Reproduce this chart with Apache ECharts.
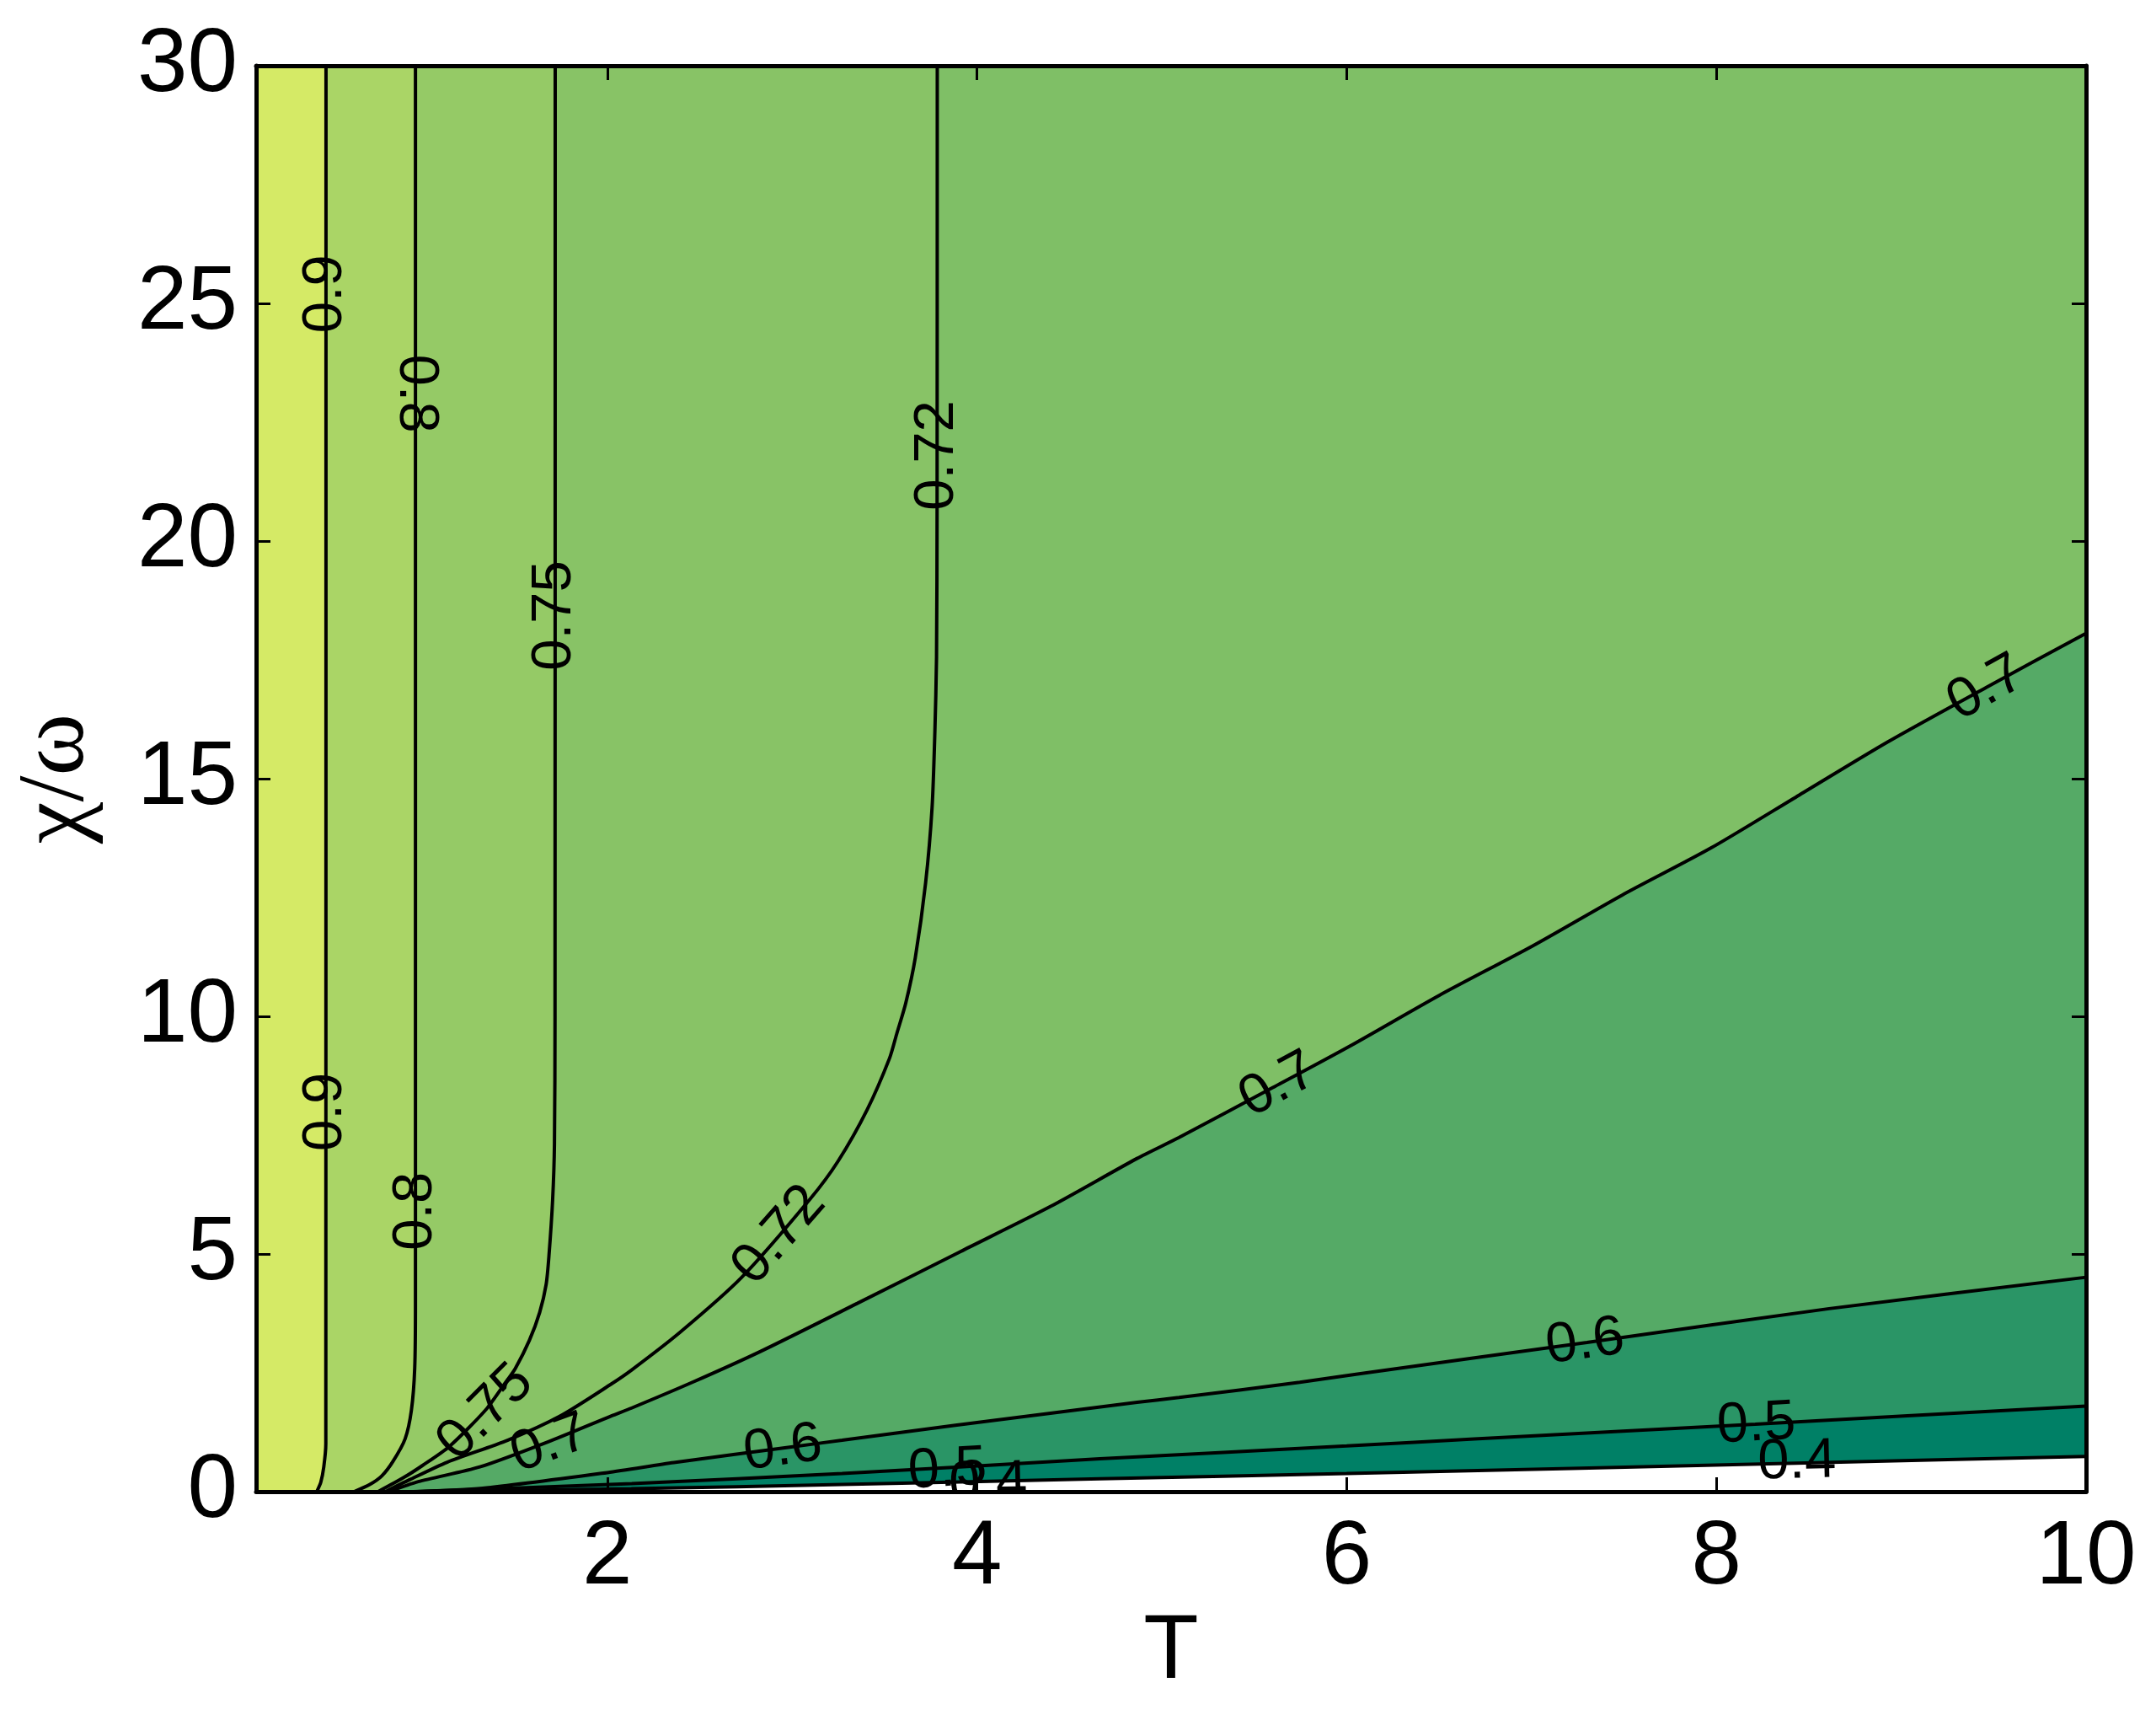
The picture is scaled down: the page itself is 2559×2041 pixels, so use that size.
<!DOCTYPE html>
<html>
<head>
<meta charset="utf-8">
<script src="https://cdn.jsdelivr.net/npm/echarts@6/dist/echarts.min.js"></script>
<style>
  html, body { margin: 0; padding: 0; background: #fff; }
  #chart { width: 2559px; height: 2041px; }
</style>
</head>
<body>
<div id="chart"></div>
<script>
// axis ticks
const xTicks = [2, 4, 6, 8, 10];
const xMin = 0.1, xMax = 10, yMin = 0, yMax = 30;

// contour lines, points are [T, chi/omega]
const line090 = [[0.428, 0], [0.45, 0.2], [0.466, 0.52], [0.477, 1.0], [0.478, 30]];
const line080 = [[0.63, 0], [0.715, 0.15], [0.78, 0.33], [0.841, 0.64], [0.906, 1.11], [0.94, 1.71],
  [0.958, 2.6], [0.962, 4], [0.962, 30]];
const line075 = [[0.76, 0], [0.9, 0.3], [1.0, 0.55], [1.145, 0.95], [1.342, 1.72], [1.448, 2.29],
  [1.502, 2.59], [1.578, 3.18], [1.634, 3.77], [1.669, 4.36], [1.684, 4.95], [1.704, 6.13],
  [1.714, 7.32], [1.717, 10], [1.718, 30]];
const line072 = [[0.80, 0], [0.93, 0.25], [1.134, 0.62], [1.46, 1.08], [1.745, 1.59], [2.02, 2.26],
  [2.132, 2.56], [2.393, 3.35], [2.725, 4.5], [3.10, 6.17], [3.248, 6.95], [3.405, 8.03],
  [3.527, 9.12], [3.567, 9.65], [3.614, 10.27], [3.666, 11.23], [3.722, 12.81], [3.757, 14.40],
  [3.772, 15.98], [3.781, 17.56], [3.784, 20.72], [3.785, 30]];
const line070 = [[0.82, 0], [0.977, 0.21], [1.31, 0.52], [1.70, 1.08], [2.02, 1.59], [2.132, 1.76],
  [2.46, 2.30], [2.829, 2.95], [3.352, 3.96], [3.91, 5.05], [4.398, 6.0], [4.866, 7.01],
  [5.093, 7.45], [5.6, 8.5], [6.02, 9.38], [6.5, 10.44], [7.01, 11.49], [7.49, 12.55],
  [7.97, 13.54], [8.45, 14.66], [8.93, 15.78], [9.46, 16.92], [10, 18.06]];
const line060 = [[0.95, 0], [1.325, 0.07], [2.0, 0.40], [2.36, 0.61], [3.004, 0.945], [3.27, 1.08],
  [3.874, 1.39], [4.866, 1.88], [5.093, 1.98], [5.746, 2.30], [6.05, 2.47], [7.30, 3.14],
  [8.61, 3.85], [10, 4.51]];
const line050 = [[0.97, 0], [2.132, 0.17], [3.27, 0.38], [4.665, 0.69], [6.0, 0.96], [6.69, 1.11],
  [8.21, 1.42], [10, 1.80]];
const line040 = [[1.0, 0], [2.13, 0.06], [3.27, 0.15], [4.665, 0.27], [6.0, 0.38], [8.43, 0.60],
  [10, 0.74]];

// inline labels: [level, T, chi/omega, flipped]
const labelPos = [
  [0.9, 0.477, 25.2], [0.9, 0.477, 7.99],
  [0.8, 0.962, 23.1, true], [0.8, 0.962, 5.9],
  [0.75, 1.718, 18.43], [0.75, 1.342, 1.66],
  [0.72, 3.785, 21.8], [0.72, 2.93, 5.39],
  [0.7, 1.69, 1.0], [0.7, 5.63, 8.55], [0.7, 9.46, 16.9],
  [0.6, 2.95, 0.9], [0.6, 7.29, 3.14],
  [0.5, 3.84, 0.45], [0.5, 8.216, 1.41],
  [0.4, 4.06, 0.16], [0.4, 8.436, 0.62]
];

const lines = {0.9: line090, 0.8: line080, 0.75: line075, 0.72: line072,
               0.7: line070, 0.6: line060, 0.5: line050, 0.4: line040};

// matlab "summer" colormap, caxis [0.4 1]
function summer(v) {
  const x = (v - 0.4) / 0.6;
  return 'rgb(' + Math.round(255 * x) + ',' + Math.round(127.5 * (1 + x)) + ',102)';
}

// filled bands, painted in order over the 0.7-0.72 background
const fills = [];
[[line072, 0.72], [line075, 0.75], [line080, 0.8], [line090, 0.9]].forEach(function (d) {
  fills.push({pts: d[0].concat([[xMin, yMax], [xMin, yMin]]), color: summer(d[1])});
});
[[line070, 0.6], [line060, 0.5], [line050, 0.4], [line040, null]].forEach(function (d) {
  fills.push({pts: d[0].concat([[xMax, yMin]]), color: d[1] === null ? '#ffffff' : summer(d[1])});
});

const font = 'Liberation Sans';
const chart = echarts.init(document.getElementById('chart'));

function labelItem(params, api) {
  const lab = labelPos[params.dataIndex];
  const line = lines[lab[0]];
  const p = api.coord([lab[1], lab[2]]);
  let best = 0, bd = Infinity;
  for (let i = 0; i < line.length - 1; i++) {
    const a = api.coord(line[i]), b = api.coord(line[i + 1]);
    const dx = b[0] - a[0], dy = b[1] - a[1];
    const l2 = dx * dx + dy * dy || 1;
    let t = ((p[0] - a[0]) * dx + (p[1] - a[1]) * dy) / l2;
    t = Math.max(0, Math.min(1, t));
    const qx = a[0] + t * dx - p[0], qy = a[1] + t * dy - p[1];
    const d = qx * qx + qy * qy;
    if (d < bd) { bd = d; best = i; }
  }
  const a = api.coord(line[best]), b = api.coord(line[best + 1]);
  let ang = Math.atan2(-(b[1] - a[1]), b[0] - a[0]);
  if (ang > Math.PI / 2 + 0.01) ang -= Math.PI;
  if (ang < -Math.PI / 2 - 0.01) ang += Math.PI;
  if (lab[3]) ang += Math.PI;
  return {
    type: 'text',
    x: p[0], y: p[1], rotation: ang,
    style: {
      text: String(lab[0]), fill: '#000',
      fontSize: 67, fontFamily: font,
      align: 'center', verticalAlign: 'middle'
    }
  };
}

const series = [{
  type: 'custom',
  z: 1,
  clip: true,
  silent: true,
  data: fills.map(function () { return [5, 15]; }),
  renderItem: function (params, api) {
    const f = fills[params.dataIndex];
    return {
      type: 'polygon',
      shape: {points: f.pts.map(function (p) { return api.coord(p); })},
      style: {fill: f.color, stroke: null}
    };
  }
}];

[line090, line080, line075, line072, line070, line060, line050, line040].forEach(function (l) {
  series.push({
    type: 'line',
    z: 2,
    data: l,
    showSymbol: false,
    symbol: 'none',
    smooth: 0.25,
    silent: true,
    clip: true,
    lineStyle: {color: '#000', width: 4}
  });
});

series.push({
  type: 'custom',
  z: 3,
  clip: true,
  silent: true,
  data: labelPos.map(function () { return [5, 15]; }),
  renderItem: labelItem
});

const tickStyle = {show: true, inside: true, length: 17, lineStyle: {color: '#000', width: 3}};
const lineStyle = {show: true, onZero: false, lineStyle: {color: '#000', width: 5}};

chart.setOption({
  animation: false,
  grid: {left: 304, top: 78, width: 2172, height: 1692, show: true,
         backgroundColor: summer(0.7), borderWidth: 0},
  xAxis: [{
    type: 'value', min: xMin, max: xMax, position: 'bottom', z: 10,
    name: 'T', nameLocation: 'middle', nameGap: 188,
    nameTextStyle: {fontSize: 107, fontFamily: font, color: '#000',
                    align: 'center', verticalAlign: 'middle'},
    axisLine: lineStyle,
    axisTick: Object.assign({customValues: xTicks}, tickStyle),
    axisLabel: {customValues: xTicks, fontSize: 107, fontFamily: font, color: '#000', margin: 26},
    splitLine: {show: false}
  }, {
    type: 'value', min: xMin, max: xMax, position: 'top', z: 10,
    axisLine: lineStyle,
    axisTick: Object.assign({customValues: xTicks}, tickStyle),
    axisLabel: {show: false},
    splitLine: {show: false}
  }],
  yAxis: [{
    type: 'value', min: yMin, max: yMax, interval: 5, position: 'left', z: 10,
    name: 'χ/ω', nameLocation: 'middle', nameGap: 235, nameRotate: 90,
    nameTextStyle: {fontSize: 112, fontFamily: 'Liberation Serif', color: '#000',
                    align: 'center', verticalAlign: 'middle'},
    axisLine: lineStyle,
    axisTick: tickStyle,
    axisLabel: {fontSize: 107, fontFamily: font, color: '#000', margin: 22},
    splitLine: {show: false}
  }, {
    type: 'value', min: yMin, max: yMax, interval: 5, position: 'right', z: 10,
    axisLine: lineStyle,
    axisTick: tickStyle,
    axisLabel: {show: false},
    splitLine: {show: false}
  }],
  series: series
});
</script>
</body>
</html>
